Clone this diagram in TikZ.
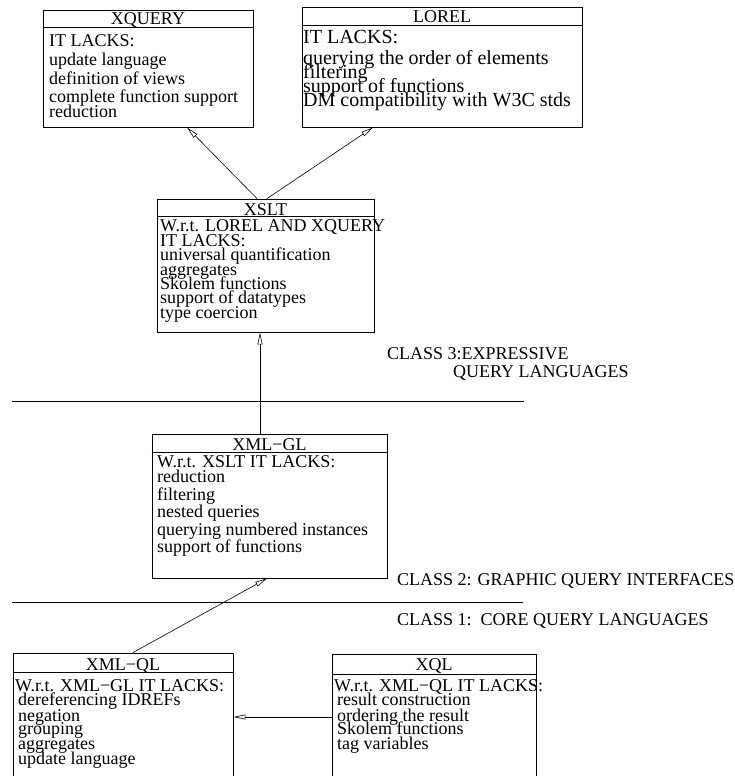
\documentclass[tikz,border=0pt]{standalone}
\usepackage{fontspec}
\setmainfont{Liberation Serif}
\usetikzlibrary{arrows.meta}
\setlength{\lineskiplimit}{-30pt}

\begin{document}
\begin{tikzpicture}[x=1pt,y=-1pt,
        box/.style={draw=black, line width=0.8pt},
        title/.style={anchor=base, font=\fontsize{18}{18}\selectfont},
        body/.style={anchor=north west, align=left, font=\fontsize{18}{14}\selectfont},
        classtext/.style={anchor=base west, font=\fontsize{18}{18}\selectfont},
        arr/.style={line width=0.6pt, -{Triangle[open,length=12pt,width=5pt]}}]
                \tikzstyle{every node}+=[inner sep=0pt]
                \useasboundingbox (0,0) rectangle (734,776);
                % XQUERY
                \node [box, minimum width=210pt, minimum height=117pt] (xquery) at (148,68.5) {};
                \draw [black, line width=0.8pt] (xquery.west |- 0,27) -- (xquery.east |- 0,27);
                \node [title] (xquery-t) at (148,25) {XQUERY};
                \node [body] (xquery-b) at (49,34) {IT LACKS:\\[5.7pt]update language\\[4.3pt]definition of views\\[4pt]complete function support\\[1pt]reduction};
                % LOREL
                \node [box, minimum width=280pt, minimum height=120pt] (lorel) at (442,67) {};
                \draw [black, line width=0.8pt] (lorel.west |- 0,25) -- (lorel.east |- 0,25);
                \node [title] (lorel-t) at (442,22.7) {LOREL};
                \node [body, font=\fontsize{20}{14}\selectfont] (lorel-b) at (303,30) {IT LACKS:\\[7pt]querying the order of elements\\filtering\\support of functions\\DM compatibility with W3C stds};
                % XSLT
                \node [box, minimum width=217pt, minimum height=133pt] (xslt) at (265.5,265.5) {};
                \draw [black, line width=0.8pt] (xslt.west |- 0,216.7) -- (xslt.east |- 0,216.7);
                \node [title] (xslt-t) at (265.5,215.5) {XSLT};
                \node [body] (xslt-b) at (160,219) {W.r.t. LOREL AND XQUERY\\[1pt]IT LACKS:\\[0.5pt]universal quantification\\[0.5pt]aggregates\\Skolem functions\\support of datatypes\\[1pt]type coercion};
                % XML-GL
                \node [box, minimum width=235pt, minimum height=144pt] (xmlgl) at (269.5,506) {};
                \draw [black, line width=0.8pt] (xmlgl.west |- 0,452.3) -- (xmlgl.east |- 0,452.3);
                \node [title] (xmlgl-t) at (269.5,450.5) {XML−GL};
                \node [body] (xmlgl-b) at (157,455) {W.r.t. XSLT IT LACKS:\\[1pt]reduction\\[4pt]filtering\\[3pt]nested queries\\[4pt]querying numbered instances\\[3pt]support of functions};
                % XML-QL
                \node [box, minimum width=220pt, minimum height=127pt] (xmlql) at (123,716.5) {};
                \draw [black, line width=0.8pt] (xmlql.west |- 0,672) -- (xmlql.east |- 0,672);
                \node [title] (xmlql-t) at (123,670) {XML−QL};
                \node [body] (xmlql-b) at (15,679) {W.r.t. XML−GL IT LACKS:\\\hspace*{3pt}dereferencing IDREFs\\[2pt]\hspace*{3pt}negation\\[-1pt]\hspace*{3pt}grouping\\[1pt]\hspace*{3pt}aggregates\\[1pt]\hspace*{3pt}update language};
                % XQL
                \node [box, minimum width=204pt, minimum height=126pt] (xql) at (434,717) {};
                \draw [black, line width=0.8pt] (xql.west |- 0,674) -- (xql.east |- 0,674);
                \node [title] (xql-t) at (434,670) {XQL};
                \node [body] (xql-b) at (334,679) {W.r.t. XML−QL IT LACKS:\\\hspace*{3pt}result construction\\[2pt]\hspace*{3pt}ordering the result\\[-1pt]\hspace*{3pt}Skolem functions\\[1pt]\hspace*{3pt}tag variables};
                % class separators
                \draw [black, line width=0.8pt] (12,401) -- (524,401);
                \draw [black, line width=0.8pt] (12,602) -- (523,602);
                \node [classtext] (cls3a) at (387,359) {CLASS 3:EXPRESSIVE};
                \node [classtext] (cls3b) at (453,377) {QUERY LANGUAGES};
                \node [classtext] (cls2) at (397,585) {CLASS 2: GRAPHIC QUERY INTERFACES};
                \node [classtext] (cls1) at (397,625) {CLASS 1:\ \ CORE QUERY LANGUAGES};
                % arrows
                \draw [arr] ([xshift=-8.5pt]xslt.north) -- ([xshift=39pt]xquery.south);
                \draw [arr] ([xshift=1.5pt]xslt.north) -- ([xshift=-69pt]lorel.south);
                \draw [arr] ([xshift=-9.5pt]xmlgl.north) -- ([xshift=-9.5pt]xmlgl.north |- xslt.south);
                \draw [arr] ([xshift=10pt]xmlql.north) -- ([xshift=-2.5pt]xmlgl.south);
                \draw [arr] (xql.west |- 0,717) -- (xmlql.east |- 0,717);
            \end{tikzpicture}
\end{document}
